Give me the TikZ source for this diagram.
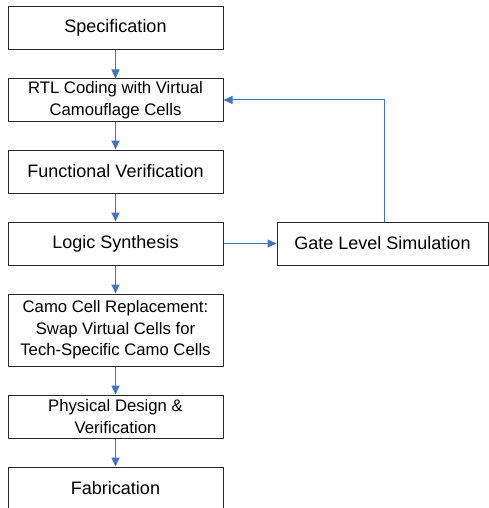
\documentclass[tikz,border=0pt]{standalone}
\usepackage{fontspec}
\setmainfont{Liberation Sans}
\usetikzlibrary{arrows.meta}
\definecolor{arrowblue}{HTML}{4472C4}
\definecolor{boxline}{HTML}{262626}
\begin{document}
\begin{tikzpicture}[x=1pt,y=-1pt,
  stepbox/.style={draw=boxline, line width=1pt, fill=white, minimum width=215pt,
    minimum height=43pt, align=center, inner sep=0pt, text=black,
    font=\fontsize{18}{21.5}\selectfont},
  twoline/.style={font=\fontsize{16.7}{21.5}\selectfont},
  flow/.style={draw=arrowblue, line width=1pt, -{Triangle[length=9pt,width=8pt]}}
]
\useasboundingbox (0,0) rectangle (489,508);
\node[stepbox] (spec) at (115.5,28) {Specification};
\node[stepbox,twoline,minimum height=42pt] (rtl) at (115.5,100) {RTL Coding with Virtual\\Camouflage Cells};
\node[stepbox] (func) at (115.5,171.5) {Functional Verification};
\node[stepbox] (logic) at (115.5,243.5) {Logic Synthesis};
\node[stepbox,minimum width=211pt] (gate) at (382.5,243.5) {Gate Level Simulation};
\node[stepbox,twoline,minimum height=72pt] (camo) at (115.5,330) {Camo Cell Replacement:\\Swap Virtual Cells for\\Tech-Specific Camo Cells};
\node[stepbox,twoline] (phys) at (115.5,416.5) {Physical Design \&\\Verification};
\node[stepbox] (fab) at (115.5,488.5) {Fabrication};
\draw[flow] (spec) -- (rtl);
\draw[flow] (rtl) -- (func);
\draw[flow] (func) -- (logic);
\draw[flow] (logic) -- (camo);
\draw[flow] (camo) -- (phys);
\draw[flow] (phys) -- (fab);
\draw[flow] (logic) -- (gate);
\draw[flow] ([xshift=1.5pt]gate.north) |- (rtl.east);
\end{tikzpicture}
\end{document}
